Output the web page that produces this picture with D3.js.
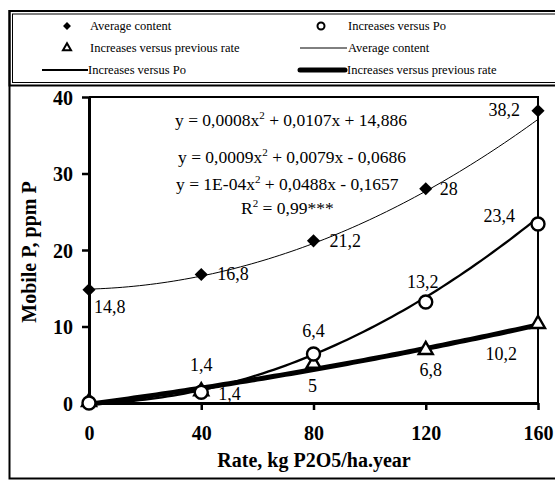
<!DOCTYPE html>
<html>
<head>
<meta charset="utf-8">
<script src="https://cdn.jsdelivr.net/npm/d3@7/dist/d3.min.js"></script>
<style>
  html, body { margin: 0; padding: 0; background: #fff; }
  svg { display: block; }
</style>
</head>
<body>
<svg id="chart" width="555" height="481"></svg>
<script>
// Phosphorus rates, kg P2O5/ha.year
const rates = [0, 40, 80, 120, 160];
// Mobile P, ppm P
const averageContent = [14.8, 16.8, 21.2, 28, 38.2];
const increasesVsPo = [0, 1.4, 6.4, 13.2, 23.4];
const increasesVsPrev = [0, 1.4, 5, 6.8, 10.2];
// Polynomial trend coefficients [a, b, c] for y = a*x^2 + b*x + c
const trendAverage = [0.0008, 0.0107, 14.886];
const trendPo = [0.0009, 0.0079, -0.0686];
const trendPrev = [0.0001, 0.0488, -0.1657];
const equations = [
  ["0,0008", "0,0107x + 14,886"],
  ["0,0009", "0,0079x - 0,0686"],
  ["1E-04", "0,0488x - 0,1657"]
];
const xTicks = [0, 40, 80, 120, 160];
const yTicks = [0, 10, 20, 30, 40];

const SERIF = "Liberation Serif";
const svg = d3.select("#chart").attr("font-family", SERIF);

// Outer frame and legend box
svg.append("rect").attr("x", 9.5).attr("y", 11).attr("width", 560).attr("height", 467.5)
  .attr("fill", "none").attr("stroke", "#000").attr("stroke-width", 2);
svg.append("rect").attr("x", 9.5).attr("y", 11).attr("width", 560).attr("height", 74.5)
  .attr("fill", "none").attr("stroke", "#000").attr("stroke-width", 2);
svg.append("rect").attr("x", 12.5).attr("y", 14).attr("width", 560).attr("height", 68.5)
  .attr("fill", "none").attr("stroke", "#000").attr("stroke-width", 1);

const x = d3.scaleLinear().domain([0, 160]).range([89, 538]);
const y = d3.scaleLinear().domain([0, 40]).range([403, 97]);

// Plot frame (top and right)
svg.append("path")
  .attr("d", `M${x(0)},${y(40)}H${x(160)}V${y(0)}`)
  .attr("fill", "none").attr("stroke", "#000").attr("stroke-width", 2);

// Axes
const xAxis = svg.append("g").attr("transform", `translate(0,${y(0)})`)
  .call(d3.axisBottom(x).tickValues(xTicks).tickSize(7).tickSizeOuter(0));
const yAxis = svg.append("g").attr("transform", `translate(${x(0)},0)`)
  .call(d3.axisLeft(y).tickValues(yTicks).tickSize(7).tickPadding(9).tickSizeOuter(0));
[xAxis, yAxis].forEach(g => {
  g.attr("font-family", SERIF);
  g.select(".domain").attr("stroke", "#000").attr("stroke-width", 3);
  g.selectAll(".tick line").attr("stroke", "#000").attr("stroke-width", 2.5);
  g.selectAll(".tick text")
    .attr("font-size", 20).attr("font-weight", "bold").attr("fill", "#000");
});
xAxis.selectAll(".tick text").attr("y", 37).attr("dy", null);
yAxis.selectAll(".tick text").attr("dy", "0.35em");

// Axis titles
svg.append("text").attr("x", 314).attr("y", 467).attr("text-anchor", "middle")
  .attr("font-size", 20).attr("font-weight", "bold").text("Rate, kg P2O5/ha.year");
svg.append("text").attr("transform", "translate(36,252) rotate(-90)").attr("text-anchor", "middle")
  .attr("font-size", 20).attr("font-weight", "bold").text("Mobile P, ppm P");

// Trend curves
const poly = c => v => c[0] * v * v + c[1] * v + c[2];
const xs = d3.range(0, 160.001, 2);
const trendLine = f => d3.line().x(d => x(d)).y(d => y(f(d)))(xs);
svg.append("path").attr("d", trendLine(poly(trendAverage)))
  .attr("fill", "none").attr("stroke", "#000").attr("stroke-width", 1);
svg.append("path").attr("d", trendLine(poly(trendPo)))
  .attr("fill", "none").attr("stroke", "#000").attr("stroke-width", 2.3);
svg.append("path").attr("d", trendLine(poly(trendPrev)))
  .attr("fill", "none").attr("stroke", "#000").attr("stroke-width", 5)
  .attr("stroke-linecap", "round");

// Markers
const diamond = d3.symbol().type(d3.symbolDiamond2).size(110);
const triangle = d3.symbol().type(d3.symbolTriangle).size(85);

svg.append("g").selectAll("path").data(rates).join("path")
  .attr("d", diamond).attr("transform", (d, i) => `translate(${x(d)},${y(averageContent[i])})`)
  .attr("fill", "#000");
svg.append("g").selectAll("path").data(rates).join("path")
  .attr("d", triangle).attr("transform", (d, i) => `translate(${x(d)},${y(increasesVsPrev[i]) - 1})`)
  .attr("fill", "#fff").attr("stroke", "#000").attr("stroke-width", 2.4);
svg.append("g").selectAll("circle").data(rates).join("circle")
  .attr("cx", d => x(d)).attr("cy", (d, i) => y(increasesVsPo[i])).attr("r", 6.5)
  .attr("fill", "#fff").attr("stroke", "#000").attr("stroke-width", 2.4);

// Data labels
const fmt = v => String(v).replace(".", ",");
const labels = [
  // [series values, index, dx, dy, anchor]
  [averageContent, 0, 5, 23, "start"],
  [averageContent, 1, 16, 6, "start"],
  [averageContent, 2, 16, 6, "start"],
  [averageContent, 3, 14, 6, "start"],
  [averageContent, 4, -18, 5, "end"],
  [increasesVsPo, 1, 0, -21, "middle"],
  [increasesVsPo, 2, 0, -17, "middle"],
  [increasesVsPo, 3, -3, -14, "middle"],
  [increasesVsPo, 4, -23, -2, "end"],
  [increasesVsPrev, 1, 17, 8, "start"],
  [increasesVsPrev, 2, -1, 27, "middle"],
  [increasesVsPrev, 3, 5, 25, "middle"],
  [increasesVsPrev, 4, -21, 35, "end"]
];
svg.append("g").selectAll("text").data(labels).join("text")
  .attr("x", d => x(rates[d[1]]) + d[2])
  .attr("y", d => y(d[0][d[1]]) + d[3])
  .attr("text-anchor", d => d[4])
  .attr("font-size", 18)
  .text(d => fmt(d[0][d[1]]));

// Trend equations
const eqX = [175, 178, 176];
const eqY = [126, 163, 190];
const eq = svg.append("g");
equations.forEach((e, i) => {
  const t = eq.append("text").attr("x", eqX[i]).attr("y", eqY[i]).attr("font-size", 17.5);
  t.append("tspan").text(`y = ${e[0]}x`);
  t.append("tspan").attr("font-size", 11).attr("dy", -7).text("2");
  t.append("tspan").attr("dy", 7).text(` + ${e[1]}`);
});
const r2 = eq.append("text").attr("x", 241).attr("y", 214).attr("font-size", 17.5);
r2.append("tspan").text("R");
r2.append("tspan").attr("font-size", 11).attr("dy", -7).text("2");
r2.append("tspan").attr("dy", 7).text(" = 0,99***");

// Legend
const legend = svg.append("g").attr("font-size", 12.5);
const lg = [
  { type: "diamond", sx: 67, tx: 90, ty: 30, label: "Average content" },
  { type: "circle", sx: 321, tx: 348, ty: 30, label: "Increases versus Po" },
  { type: "triangle", sx: 67, tx: 90, ty: 52, label: "Increases versus previous rate" },
  { type: "line", w: 1, x1: 300, x2: 347, tx: 348, ty: 52, label: "Average content" },
  { type: "line", w: 2, x1: 42, x2: 88, tx: 88, ty: 74, label: "Increases versus Po" },
  { type: "line", w: 5, x1: 300, x2: 345, tx: 347, ty: 74, label: "Increases versus previous rate" }
];
lg.forEach(d => {
  const cy = d.ty - 4;
  if (d.type === "diamond") {
    legend.append("path").attr("d", d3.symbol().type(d3.symbolDiamond2).size(40))
      .attr("transform", `translate(${d.sx},${cy})`).attr("fill", "#000");
  } else if (d.type === "circle") {
    legend.append("circle").attr("cx", d.sx).attr("cy", cy).attr("r", 3.5)
      .attr("fill", "#fff").attr("stroke", "#000").attr("stroke-width", 2);
  } else if (d.type === "triangle") {
    legend.append("path").attr("d", d3.symbol().type(d3.symbolTriangle).size(28))
      .attr("transform", `translate(${d.sx},${cy})`)
      .attr("fill", "#fff").attr("stroke", "#000").attr("stroke-width", 2);
  } else {
    legend.append("line").attr("x1", d.x1).attr("x2", d.x2).attr("y1", cy).attr("y2", cy)
      .attr("stroke", "#000").attr("stroke-width", d.w).attr("stroke-linecap", d.w > 2 ? "round" : "butt");
  }
  legend.append("text").attr("x", d.tx).attr("y", d.ty).text(d.label);
});
</script>
</body>
</html>
